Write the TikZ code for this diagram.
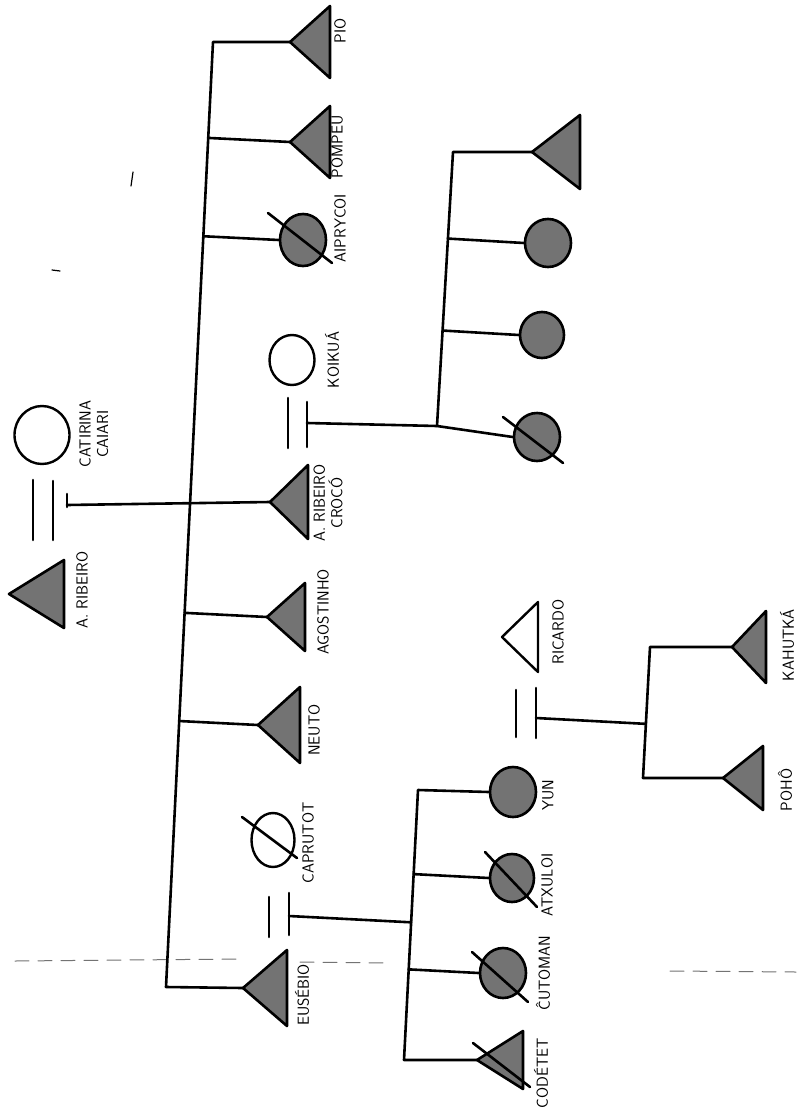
\documentclass[tikz,border=0pt]{standalone}
\usepackage{fontspec}
\usetikzlibrary{calc,shapes.geometric}
\newcommand\kintri[6]{%
  \coordinate (#1) at (#2,#3);
  \draw[#6] (#1) -- ++(#4,-#5) -- ++(0,{2*#5}) -- cycle;}
\begin{document}
\begin{tikzpicture}[x=1pt,y=-1pt,line cap=round,line join=round,
  ln/.style={line width=2.6pt},
  sym/.style={draw,line width=2.6pt,fill=black!55},
  opn/.style={draw,line width=2.4pt,fill=white},
  cir/.style={draw,ellipse,line width=2.6pt,fill=black!55,inner sep=0pt},
  ocir/.style={draw,ellipse,line width=2.4pt,fill=white,inner sep=0pt},
  lab/.style={rotate=90,font=\fontsize{16}{17.5}\selectfont\sffamily,inner sep=0pt,align=center},
  fold/.style={draw=black!55,line width=1pt,dash pattern=on 14pt off 9pt}]
\useasboundingbox (0,0) rectangle (796,1113);
\fill[white] (0,0) rectangle (796,1113);

% fold line and stray marks
\draw[fold] (15,961) -- (240,959);
\draw[fold] (300,962) -- (385,963);
\draw[fold] (670,971) -- (796,972);
\draw[line width=1.2pt] (133,172) -- (131,186);
\draw[line width=1.2pt] (52,270) -- (60,271);

% symbols: triangles (men)
\kintri{pio}{290}{42}{40}{36}{sym}
\kintri{pompeu}{290}{142}{40}{36}{sym}
\kintri{croco}{270}{502}{38}{37}{sym}
\kintri{agost}{267}{617}{38}{34}{sym}
\kintri{neuto}{258}{725}{42}{38}{sym}
\kintri{eusebio}{243}{988}{44}{38}{sym}
\kintri{ribeiro}{9}{594}{55}{34}{sym}
\kintri{kson}{532}{152}{48}{37}{sym}
\kintri{codetet}{477}{1060}{46}{29}{sym}
\kintri{ricardo}{502}{637}{36}{35}{opn}
\kintri{kahutka}{732}{647}{34}{36}{sym}
\kintri{poho}{723}{778}{40}{32}{sym}

% circles (women)
\node[cir,minimum width=46pt,minimum height=52pt] (aip) at (303,240) {};
\node[ocir,minimum width=55pt,minimum height=58pt] (catirina) at (42,435) {};
\node[ocir,minimum width=45pt,minimum height=50pt] (koikua) at (292,360) {};
\node[ocir,minimum width=43pt,minimum height=54pt] (caprutot) at (273,840) {};
\node[cir,minimum width=46pt,minimum height=48pt] (kd1) at (548,243) {};
\node[cir,minimum width=44pt,minimum height=46pt] (kd2) at (542,335) {};
\node[cir,minimum width=46pt,minimum height=48pt] (kd3) at (537,437) {};
\node[cir,minimum width=46pt,minimum height=50pt] (yun) at (513,792) {};
\node[cir,minimum width=44pt,minimum height=48pt] (atxuloi) at (512,878) {};
\node[cir,minimum width=46pt,minimum height=50pt] (cutoman) at (503,973) {};

% slashes (deceased)
\draw[ln] ($(aip)+(-35,-27)$) -- ($(aip)+(29,23)$);
\draw[ln] ($(caprutot)+(-31,-23)$) -- ($(caprutot)+(24,18)$);
\draw[ln] ($(kd3)+(-34,-20)$) -- ($(kd3)+(26,26)$);
\draw[ln] ($(atxuloi)+(-27,-26)$) -- ($(atxuloi)+(25,29)$);
\draw[ln] ($(cutoman)+(-31,-21)$) -- ($(cutoman)+(25,29)$);
\draw[ln] ($(codetet)+(-4,-17)$) -- ($(codetet)+(53,27)$);

% marriage signs
\draw[ln] (33,480) -- (33,540);
\draw[ln] (53,481) -- (53,540);
\draw[ln] (67,494) -- (67,507);
\draw[ln] (269,897) -- (269,937);
\draw[ln] (289,893) -- (289,935);
\draw[ln] (288,398) -- (288,448);
\draw[ln] (307,402) -- (307,447);
\draw[ln] (516,690) -- (516,737);
\draw[ln] (536,688) -- (536,738);
\coordinate (m1) at (67,505);
\coordinate (m2) at (289,916);
\coordinate (m3) at (307,423);
\coordinate (m4) at (536,718);

% main sibling bar
\coordinate (mtop) at (213,42);
\coordinate (mbot) at (166,987);
\draw[ln] (pio) -- (mtop) -- (mbot) -- (eusebio);
\draw[ln] (pompeu) -- ($(mtop)!(pompeu)!(mbot)$);
\draw[ln] (aip.west) -- ($(mtop)!(aip.west)!(mbot)$);
\draw[ln] (agost) -- ($(mtop)!(agost)!(mbot)$);
\draw[ln] (neuto) -- ($(mtop)!(neuto)!(mbot)$);
\draw[ln] (m1) -- (croco);

% children of Croco and Koikua
\coordinate (kbtop) at (453,152);
\coordinate (kbbot) at (437,426);
\draw[ln] (m3) -- (kbbot);
\draw[ln] (kson) -- (kbtop) -- (kbbot) -- (kd3.west);
\draw[ln] (kd1.west) -- ($(kbtop)!(kd1.west)!(kbbot)$);
\draw[ln] (kd2.west) -- ($(kbtop)!(kd2.west)!(kbbot)$);

% children of Eusebio and Caprutot
\coordinate (ebtop) at (418,790);
\coordinate (ebbot) at (404,1060);
\draw[ln] (m2) -- ($(ebtop)!(m2)!(ebbot)$);
\draw[ln] (yun.west) -- (ebtop) -- (ebbot) -- (codetet);
\draw[ln] (atxuloi.west) -- ($(ebtop)!(atxuloi.west)!(ebbot)$);
\draw[ln] (cutoman.west) -- ($(ebtop)!(cutoman.west)!(ebbot)$);

% children of Yun and Ricardo
\coordinate (ybtop) at (650,647);
\coordinate (ybbot) at (643,778);
\draw[ln] (m4) -- ($(ybtop)!(m4)!(ybbot)$);
\draw[ln] (kahutka) -- (ybtop) -- (ybbot) -- (poho);

% labels
\node[lab] (lpio) at (340,31) {PIO};
\node[lab] (lpompeu) at (337,147) {POMPEU};
\node[lab] (laip) at (340,228) {AIPRYCOI};
\node[lab] (lcroco) at (328,503) {A. RIBEIRO\\CROCÓ};
\node[lab] (lagost) at (323,612) {AGOSTINHO};
\node[lab] (lneuto) at (314,730) {NEUTO};
\node[lab] (leusebio) at (302,995) {EUSÉBIO};
\node[lab] (lcaprutot) at (308,843) {CAPRUTOT};
\node[lab] (lkoikua) at (332,360) {KOIKUÁ};
\node[lab] (lribeiro) at (82,590) {A. RIBEIRO};
\node[lab] (lcatirina) at (94,434) {CATIRINA\\CAIARI};
\node[lab] (lyun) at (548,795) {YUN};
\node[lab] (latxuloi) at (547,885) {ATXULOI};
\node[lab] (lcutoman) at (543,973) {ĈUTOMAN};
\node[lab] (lcodetet) at (541,1073) {CODÉTET};
\node[lab] (lricardo) at (558,632) {RICARDO};
\node[lab] (lkahutka) at (787,645) {KAHUTKÁ};
\node[lab] (lpoho) at (785,790) {POHÔ};
\end{tikzpicture}
\end{document}
